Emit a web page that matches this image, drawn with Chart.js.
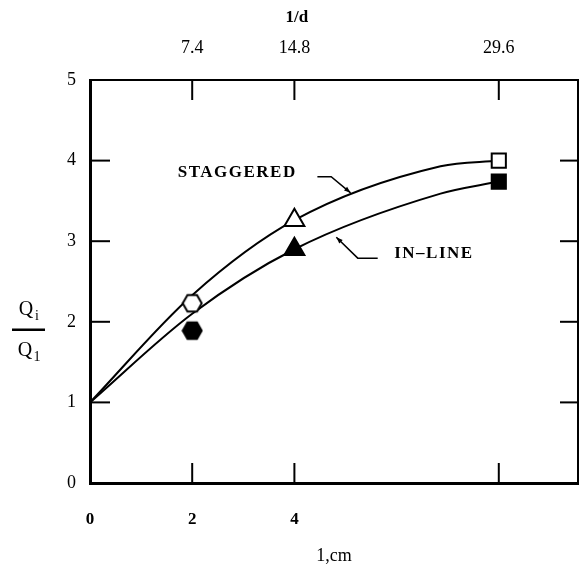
<!DOCTYPE html>
<html>
<head>
<meta charset="utf-8">
<script src="https://cdn.jsdelivr.net/npm/chart.js@4.4.1/dist/chart.umd.min.js"></script>
<style>
  html, body { margin: 0; background: #fff; overflow: hidden; }
  #wrap { width: 581px; height: 570px; }
  canvas { display: block; }
</style>
</head>
<body>
<div id="wrap"><canvas id="chart"></canvas></div>
<script>
// spacing l (cm) for the curves and for the measured points
var curveL = [0, 2, 4, 6.86, 8];
var staggeredCurve = [1, 2.33, 3.26, 3.93, 4.0];
var inlineCurve = [1, 2.1, 2.9, 3.59, 3.74];

var pointL = [2, 4, 8];
var staggeredPoints = [2.23, 3.26, 4.0];
var inlinePoints = [1.89, 2.9, 3.74];

// axis ticks
var bottomTicks = [0, 2, 4];
var topTicks = [2, 4, 8];
var topTickLabels = ['7.4', '14.8', '29.6'];
var yTicks = [0, 1, 2, 3, 4, 5];

var SERIF = '"Liberation Serif", "DejaVu Serif", serif';

function hexagon(filled) {
  var c = document.createElement('canvas');
  c.width = 22; c.height = 22;
  var g = c.getContext('2d');
  g.beginPath();
  for (var i = 0; i < 6; i++) {
    var a = Math.PI / 3 * i;
    var px = 11 + 9.5 * Math.cos(a), py = 11 + 9.5 * Math.sin(a);
    if (i === 0) g.moveTo(px, py); else g.lineTo(px, py);
  }
  g.closePath();
  g.fillStyle = filled ? '#000' : '#fff';
  g.fill();
  g.lineWidth = 2;
  g.strokeStyle = '#000';
  g.stroke();
  return c;
}

function pts(xs, ys) {
  return xs.map(function (x, i) { return {x: x, y: ys[i]}; });
}

// tick marks inside the frame, axis titles and the curve labels
var extras = {
  id: 'extras',
  afterDraw: function (chart) {
    var ctx = chart.ctx, x = chart.scales.x, y = chart.scales.y, a = chart.chartArea;
    function seg(x1, y1, x2, y2) { ctx.beginPath(); ctx.moveTo(x1, y1); ctx.lineTo(x2, y2); ctx.stroke(); }
    function X(v) { return x.getPixelForValue(v); }
    function Y(v) { return y.getPixelForValue(v); }
    ctx.save();
    ctx.strokeStyle = '#000';
    ctx.fillStyle = '#000';
    ctx.lineWidth = 2;
    yTicks.slice(1, -1).forEach(function (v) {
      seg(a.left, Y(v), a.left + 20, Y(v));
      seg(a.right, Y(v), a.right - 18, Y(v));
    });
    topTicks.forEach(function (v) {
      seg(X(v), a.bottom, X(v), a.bottom - 20);
      seg(X(v), a.top, X(v), a.top + 20);
    });

    ctx.textAlign = 'center';
    ctx.textBaseline = 'middle';
    ctx.font = 'bold 17px ' + SERIF;
    ctx.fillText('1/d', X(4.05), 18);

    // Qi / Q1
    var fx = 29, fy = Y(1.9);
    ctx.font = '20px ' + SERIF;
    ctx.fillText('Q', fx - 3, fy - 20);
    ctx.fillText('Q', fx - 4, fy + 21);
    ctx.font = '14px ' + SERIF;
    ctx.fillText('i', fx + 8, fy - 14);
    ctx.fillText('1', fx + 8, fy + 27);
    ctx.lineWidth = 2.5;
    seg(fx - 17, fy, fx + 16, fy);

    // labels
    ctx.font = 'bold 17px ' + SERIF;
    ctx.letterSpacing = '1.5px';
    ctx.fillText('STAGGERED', X(2.88), Y(3.85));
    ctx.fillText('IN\u2013LINE', X(6.73), Y(2.84));
    ctx.letterSpacing = '0px';
    ctx.lineWidth = 1.5;
    function leader(p) {
      ctx.beginPath();
      ctx.moveTo(X(p[0][0]), Y(p[0][1]));
      for (var i = 1; i < p.length; i++) ctx.lineTo(X(p[i][0]), Y(p[i][1]));
      ctx.stroke();
      var e = p[p.length - 1], s = p[p.length - 2];
      var ex = X(e[0]), ey = Y(e[1]);
      var ang = Math.atan2(ey - Y(s[1]), ex - X(s[0]));
      ctx.beginPath();
      ctx.moveTo(ex, ey);
      ctx.lineTo(ex - 7 * Math.cos(ang - 0.35), ey - 7 * Math.sin(ang - 0.35));
      ctx.lineTo(ex - 7 * Math.cos(ang + 0.35), ey - 7 * Math.sin(ang + 0.35));
      ctx.closePath();
      ctx.fill();
    }
    leader([[4.45, 3.8], [4.72, 3.8], [5.1, 3.6]]);
    leader([[5.63, 2.79], [5.24, 2.79], [4.82, 3.05]]);
    ctx.restore();
  }
};

var ctx = document.getElementById('chart').getContext('2d');
var chart = new Chart(ctx, {
  type: 'line',
  data: {
    datasets: [
      {
        label: 'staggered points',
        data: pts(pointL, staggeredPoints),
        showLine: false,
        pointStyle: [hexagon(false), 'triangle', 'rect'],
        pointRadius: [9, 11.5, 10],
        pointBackgroundColor: '#fff',
        pointBorderColor: '#000',
        pointBorderWidth: 2
      },
      {
        label: 'in-line points',
        data: pts(pointL, inlinePoints),
        showLine: false,
        pointStyle: [hexagon(true), 'triangle', 'rect'],
        pointRadius: [9, 11.5, 10],
        pointBackgroundColor: '#000',
        pointBorderColor: '#000',
        pointBorderWidth: 2
      },
      {
        label: 'STAGGERED',
        data: pts(curveL, staggeredCurve),
        borderColor: '#000',
        borderWidth: 2,
        pointRadius: 0,
        cubicInterpolationMode: 'monotone',
        fill: false
      },
      {
        label: 'IN-LINE',
        data: pts(curveL, inlineCurve),
        borderColor: '#000',
        borderWidth: 2,
        pointRadius: 0,
        cubicInterpolationMode: 'monotone',
        fill: false
      }
    ]
  },
  options: {
    responsive: true,
    maintainAspectRatio: false,
    animation: false,
    layout: {padding: 0, autoPadding: false},
    plugins: {legend: {display: false}, tooltip: {enabled: false}},
    scales: {
      x: {
        type: 'linear', position: 'bottom', min: 0, max: 9.55,
        afterBuildTicks: function (s) { s.ticks = bottomTicks.map(function (v) { return {value: v}; }); },
        afterFit: function (s) { s.height = 87; },
        ticks: {color: '#000', padding: 26, maxRotation: 0, font: {family: SERIF, size: 17, weight: 'bold'}},
        grid: {display: false, drawTicks: false},
        border: {color: '#000', width: 3},
        title: {display: true, text: '1,cm', color: '#000', padding: {top: 0, bottom: 3}, font: {family: SERIF, size: 18}}
      },
      x2: {
        type: 'linear', position: 'top', min: 0, max: 9.55,
        afterBuildTicks: function (s) { s.ticks = topTicks.map(function (v) { return {value: v}; }); },
        afterFit: function (s) { s.height = 80; },
        ticks: {
          color: '#000', padding: 21, maxRotation: 0, font: {family: SERIF, size: 18},
          callback: function (v) { return topTickLabels[topTicks.indexOf(v)]; }
        },
        grid: {display: false, drawTicks: false},
        border: {color: '#000', width: 2}
      },
      y: {
        type: 'linear', position: 'left', min: 0, max: 5,
        afterBuildTicks: function (s) { s.ticks = yTicks.map(function (v) { return {value: v}; }); },
        afterFit: function (s) { s.width = 90; },
        ticks: {color: '#000', padding: 14, font: {family: SERIF, size: 18}},
        grid: {display: false, drawTicks: false},
        border: {color: '#000', width: 3}
      },
      y2: {
        type: 'linear', position: 'right', min: 0, max: 5,
        afterFit: function (s) { s.width = 3; },
        ticks: {display: false},
        grid: {display: false, drawTicks: false},
        border: {color: '#000', width: 2}
      }
    }
  },
  plugins: [extras]
});
</script>
</body>
</html>
